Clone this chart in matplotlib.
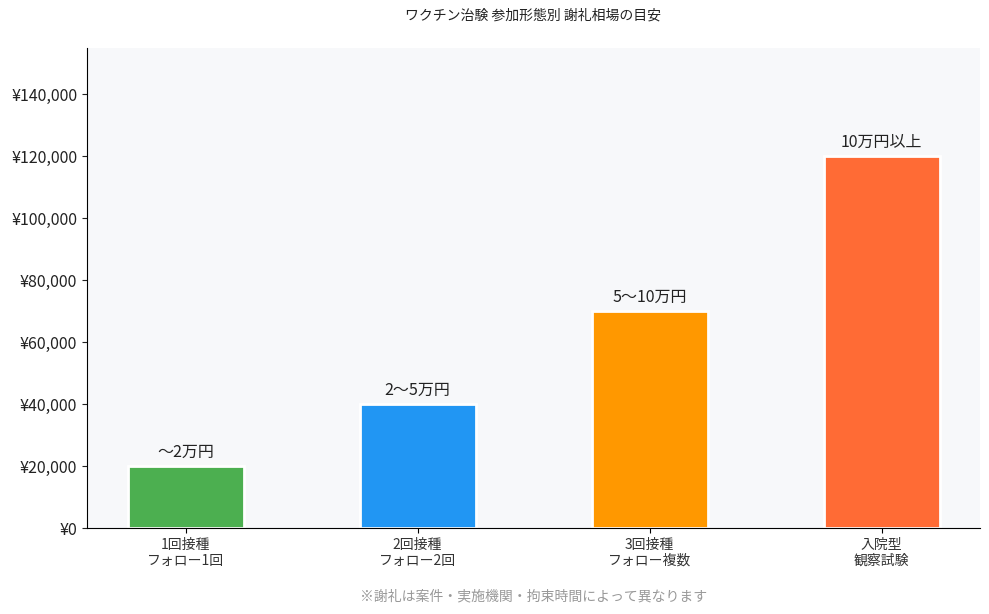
import numpy as np
import matplotlib
matplotlib.use("Agg")
import matplotlib.pyplot as plt
import matplotlib.ticker as ticker

plt.rcParams['font.family'] = ['Noto Sans CJK JP', 'DejaVu Sans']

categories = ["1回接種\nフォロー1回", "2回接種\nフォロー2回", "3回接種\nフォロー複数", "入院型\n観察試験"]
rewards = [20000, 40000, 70000, 120000]
bar_labels = ["〜2万円", "2〜5万円", "5〜10万円", "10万円以上"]
colors = ["#4CAF50", "#2196F3", "#FF9800", "#FF6B35"]


def main():
    fig = plt.figure(figsize=(9.89, 6.14), dpi=100)
    ax = fig.add_axes([0.088, 0.14, 0.903, 0.782])
    ax.set_facecolor("#f7f8fa")

    x = np.arange(len(categories))
    bars = ax.bar(x, rewards, 0.5, color=colors, edgecolor="white", linewidth=2)

    for b, lab in zip(bars, bar_labels):
        ax.annotate(lab, (b.get_x() + b.get_width() / 2, b.get_height()),
                    xytext=(0, 4), textcoords="offset points",
                    ha="center", va="bottom", fontsize=11.5, color="#222222")

    ax.set_xticks(x)
    ax.set_xticklabels(categories, fontsize=10, color="#333333")
    ax.set_ylim(0, 155000)
    ax.yaxis.set_major_locator(ticker.MultipleLocator(20000))
    ax.yaxis.set_major_formatter(ticker.FuncFormatter(lambda v, p: "¥{:,.0f}".format(v)))
    ax.tick_params(axis="y", labelsize=11.5, colors="#222222")
    ax.spines["top"].set_visible(False)
    ax.spines["right"].set_visible(False)

    fig.text(0.539, 0.974, "ワクチン治験 参加形態別 謝礼相場の目安", ha="center", va="center",
             fontsize=10, color="#222222")
    fig.text(0.539, 0.028, "※謝礼は案件・実施機関・拘束時間によって異なります", ha="center", va="center",
             fontsize=10, color="#999999")

    fig.savefig("out.png", dpi=100)


if __name__ == '__main__':
    main()
